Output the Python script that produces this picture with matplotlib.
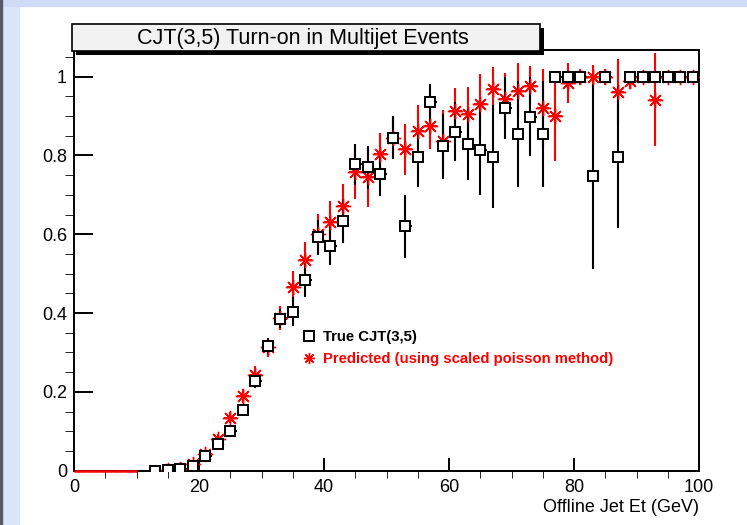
import matplotlib
matplotlib.use("Agg")
import matplotlib.pyplot as plt
from matplotlib.lines import Line2D
from matplotlib.patches import Rectangle

plt.rcParams['font.family'] = ['Liberation Sans', 'DejaVu Sans']

# Bin centres (GeV), bins of 2 GeV
zero_bins = [1, 3, 5, 7, 9]
zero_vals = [0, 0, 0, 0, 0]

et_true = [13, 15, 17, 19, 21, 23, 25, 27, 29, 31, 33, 35, 37, 39, 41, 43, 45, 47, 49,
           51, 53, 55, 57, 59, 61, 63, 65, 67, 69, 71, 73, 75, 77, 79, 81, 83, 85, 87,
           89, 91, 93, 95, 97, 99]
eff_true = [0.0, 0.002, 0.004, 0.012, 0.038, 0.068, 0.100, 0.155, 0.228, 0.317, 0.386,
            0.404, 0.484, 0.592, 0.571, 0.634, 0.778, 0.770, 0.753, 0.845, 0.620, 0.796,
            0.935, 0.823, 0.860, 0.829, 0.814, 0.797, 0.921, 0.854, 0.898, 0.854, 1.0,
            1.0, 1.0, 0.747, 1.0, 0.797, 1.0, 1.0, 1.0, 1.0, 1.0, 1.0]
err_true = [0.0, 0.002, 0.003, 0.005, 0.008, 0.010, 0.012, 0.015, 0.018, 0.020, 0.025,
            0.036, 0.042, 0.045, 0.050, 0.055, 0.052, 0.055, 0.055, 0.055, 0.080, 0.075,
            0.047, 0.082, 0.075, 0.090, 0.115, 0.130, 0.078, 0.135, 0.100, 0.135, 0.0,
            0.0, 0.0, 0.235, 0.0, 0.180, 0.0, 0.0, 0.0, 0.0, 0.0, 0.0]

et_pred = [15, 17, 19, 21, 23, 25, 27, 29, 31, 33, 35, 37, 39, 41, 43, 45, 47, 49, 51,
           53, 55, 57, 59, 61, 63, 65, 67, 69, 71, 73, 75, 77, 79, 81, 83, 85, 87, 89,
           91, 93, 95, 97, 99]
eff_pred = [0.002, 0.004, 0.017, 0.042, 0.080, 0.135, 0.190, 0.244, 0.313, 0.387, 0.467,
            0.535, 0.602, 0.630, 0.673, 0.757, 0.745, 0.803, 0.844, 0.816, 0.862, 0.876,
            0.838, 0.912, 0.905, 0.930, 0.969, 0.943, 0.964, 0.977, 0.920, 0.900, 0.984,
            1.0, 1.0, 1.0, 0.960, 0.990, 1.0, 0.941, 1.0, 1.0, 1.0]
err_pred = [0.001, 0.002, 0.005, 0.008, 0.012, 0.015, 0.018, 0.022, 0.025, 0.030, 0.040,
            0.045, 0.050, 0.055, 0.055, 0.068, 0.075, 0.055, 0.053, 0.065, 0.065, 0.060,
            0.078, 0.060, 0.070, 0.077, 0.056, 0.067, 0.070, 0.050, 0.100, 0.115, 0.050,
            0.020, 0.030, 0.020, 0.085, 0.020, 0.010, 0.118, 0.010, 0.010, 0.010]

fig = plt.figure(figsize=(7.47, 5.25), dpi=100)
W, H = 747.0, 525.0

# canvas frame (light blue border on top and left)
fig.patches.append(Rectangle((0, 0), 19 / W, 1, transform=fig.transFigure,
                             color='#dce6fb', zorder=0))
fig.patches.append(Rectangle((0, 1 - 6 / H), 1, 6 / H, transform=fig.transFigure,
                             color='#cfdcf8', zorder=0))
fig.patches.append(Rectangle((0, 0), 2 / W, 1, transform=fig.transFigure,
                             color='#555a66', zorder=0))

ax = fig.add_axes([74 / W, 54.3 / H, 625 / W, 421.2 / H])
ax.set_xlim(0, 100)
ax.set_ylim(0, 1.069)

ax.errorbar(zero_bins, zero_vals, xerr=1, fmt='none', ecolor='red', elinewidth=1.8,
            clip_on=False, zorder=6)
ax.errorbar(et_pred, eff_pred, xerr=1, yerr=err_pred, fmt='none', ecolor='red',
            elinewidth=1.5, capsize=0, zorder=2)
ax.errorbar(et_true, eff_true, xerr=1, yerr=err_true, fmt='none', ecolor='black',
            elinewidth=1.5, capsize=0, zorder=3)
ax.plot(et_pred, eff_pred, linestyle='none', marker=(8, 2, 0), markersize=11,
        markeredgewidth=1.0, color='red', zorder=4)
ax.plot(et_true, eff_true, linestyle='none', marker='s', markersize=7.5,
        markerfacecolor='white', markeredgecolor='black', markeredgewidth=1.4, zorder=5)

for s in ax.spines.values():
    s.set_linewidth(1.4)

ax.set_xticks([0, 20, 40, 60, 80, 100])
ax.set_xticks(range(0, 101, 5), minor=True)
ax.set_yticks([0, 0.2, 0.4, 0.6, 0.8, 1.0])
ax.set_yticklabels(['0', '0.2', '0.4', '0.6', '0.8', '1'])
ax.set_yticks([i * 0.05 for i in range(22)], minor=True)
ax.tick_params(axis='both', direction='in', width=1.4, labelsize=13)
ax.tick_params(axis='x', which='major', length=9.5, pad=6)
ax.tick_params(axis='x', which='minor', length=5)
ax.tick_params(axis='y', which='major', length=13.5, pad=5)
ax.tick_params(axis='y', which='minor', length=6.5)

ax.set_xlabel('Offline Jet Et (GeV)', fontsize=13, loc='right', labelpad=2)

handles = [Line2D([], [], linestyle='none', marker='s', markersize=6.5,
                  markerfacecolor='white', markeredgecolor='black', markeredgewidth=1.4),
           Line2D([], [], linestyle='none', marker=(8, 2, 0), markersize=8,
                  markeredgewidth=1.0, color='red')]
leg = ax.legend(handles, ['True CJT(3,5)', 'Predicted (using scaled poisson method)'],
                loc='upper left', bbox_to_anchor=(0.355, 0.352), frameon=False,
                handlelength=0.8, handletextpad=0.5, borderpad=0, labelspacing=0.55,
                prop={'size': 10.7, 'weight': 'bold'})
leg.get_texts()[1].set_color('red')

# title box with shadow
fig.patches.append(Rectangle((76 / W, 1 - 55 / H), 468 / W, 27 / H,
                             transform=fig.transFigure, facecolor='black', zorder=1))
fig.patches.append(Rectangle((72 / W, 1 - 51 / H), 468 / W, 27 / H,
                             transform=fig.transFigure, facecolor='#f2f2f2',
                             edgecolor='black', linewidth=1.2, zorder=2))
fig.text(303 / W, 1 - 38.5 / H, 'CJT(3,5) Turn-on in Multijet Events', fontsize=15.5,
         ha='center', va='center', zorder=3)

plt.savefig('out.png', dpi=100)
